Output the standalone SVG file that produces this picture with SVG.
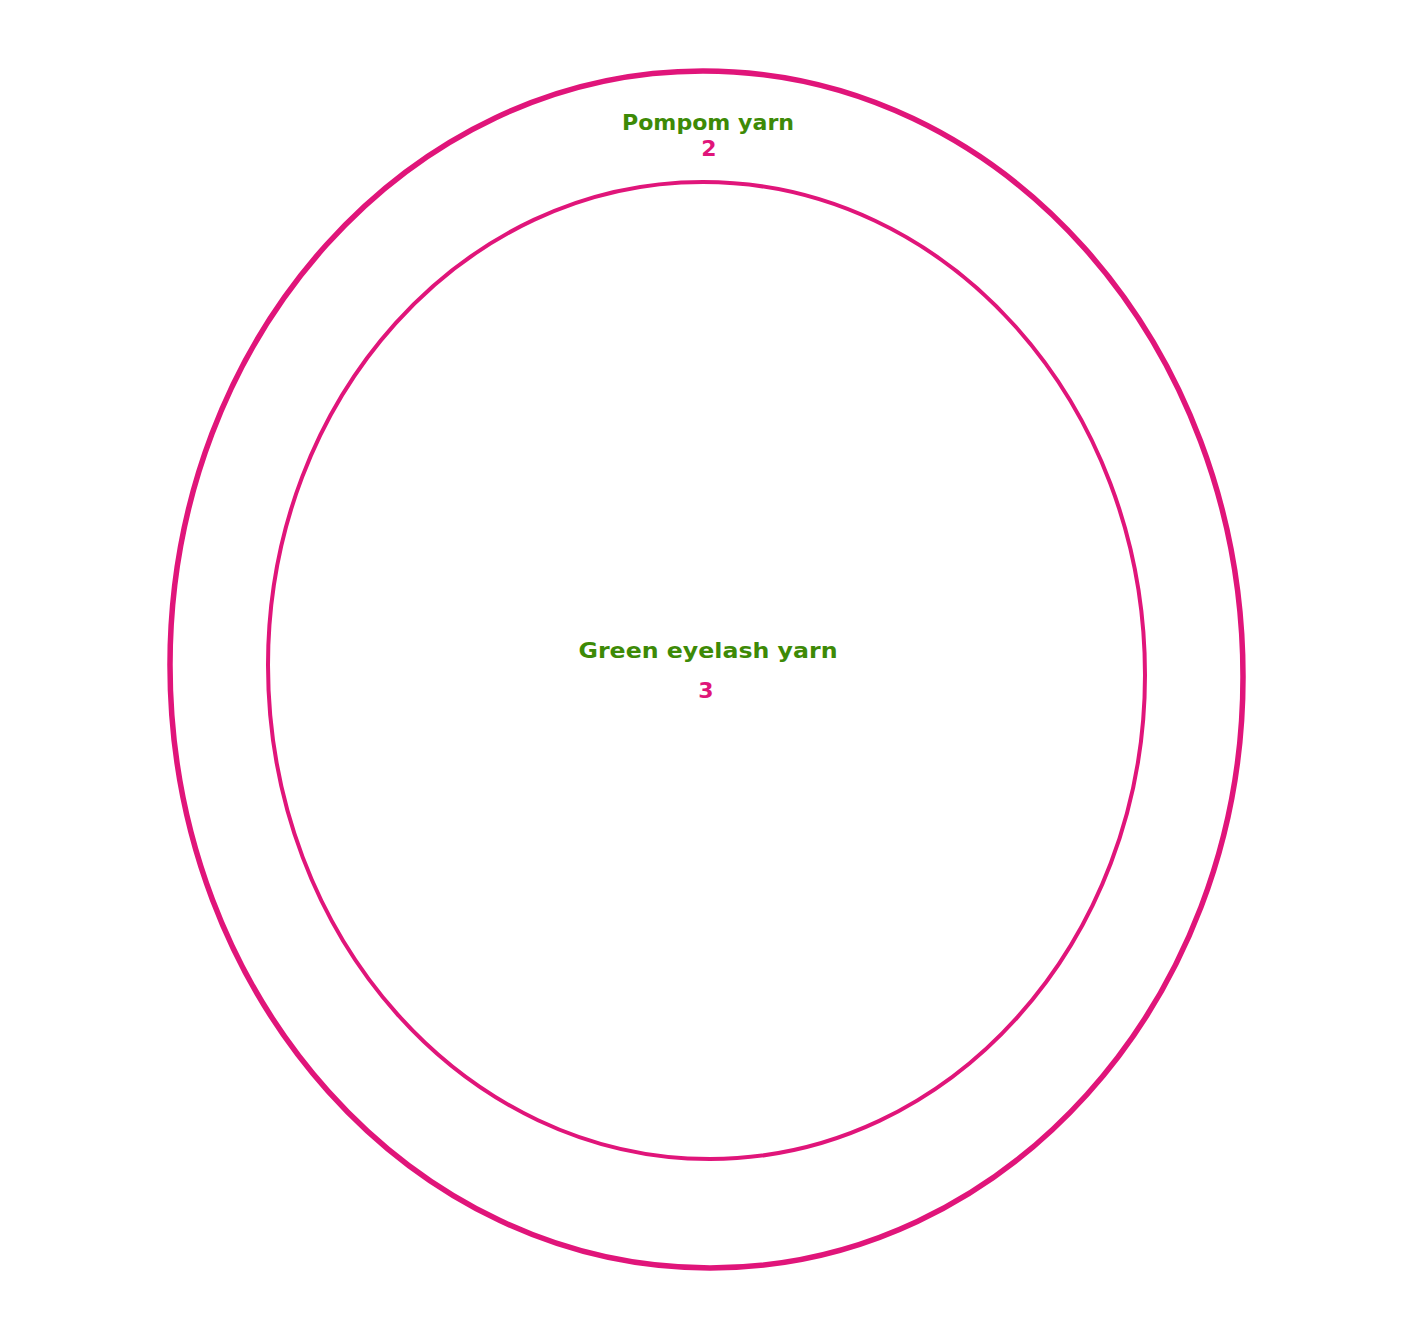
<svg xmlns="http://www.w3.org/2000/svg" width="1414" height="1330" viewBox="0 0 1414 1330">
<style>
.ring{fill:none;stroke:#E0157A;stroke-linecap:round;stroke-linejoin:round}
.lbl{font-family:"DejaVu Sans","Liberation Sans",sans-serif;font-weight:bold;font-size:22px;fill:#3D8A06;text-anchor:middle}
.num{font-family:"DejaVu Sans","Liberation Sans",sans-serif;font-weight:bold;font-size:22px;fill:#E0157A;text-anchor:middle}
</style>
<rect width="1414" height="1330" fill="#ffffff"/>
<g id="pompom">
<path class="ring" stroke-width="5.5" d="M703 71 C1001 71 1243 342 1243 677 C1243 1003 1004 1268 710 1268 C412 1268 170 998 170 665 C170 337 409 71 703 71 Z"/>
<text class="lbl" x="708" y="130" textLength="172" lengthAdjust="spacingAndGlyphs">Pompom yarn</text>
<text class="num" x="709" y="156">2</text>
</g>
<g id="green-eyelash">
<path class="ring" stroke-width="4" d="M703 182 C947 182 1145 403 1145 675 C1145 942 950 1159 710 1159 C466 1159 268 938 268 665 C268 398 463 182 703 182 Z"/>
<text class="lbl" x="708" y="658" textLength="259" lengthAdjust="spacingAndGlyphs">Green eyelash yarn</text>
<text class="num" x="706" y="698">3</text>
</g>
<g id="connectors"></g>
</svg>
